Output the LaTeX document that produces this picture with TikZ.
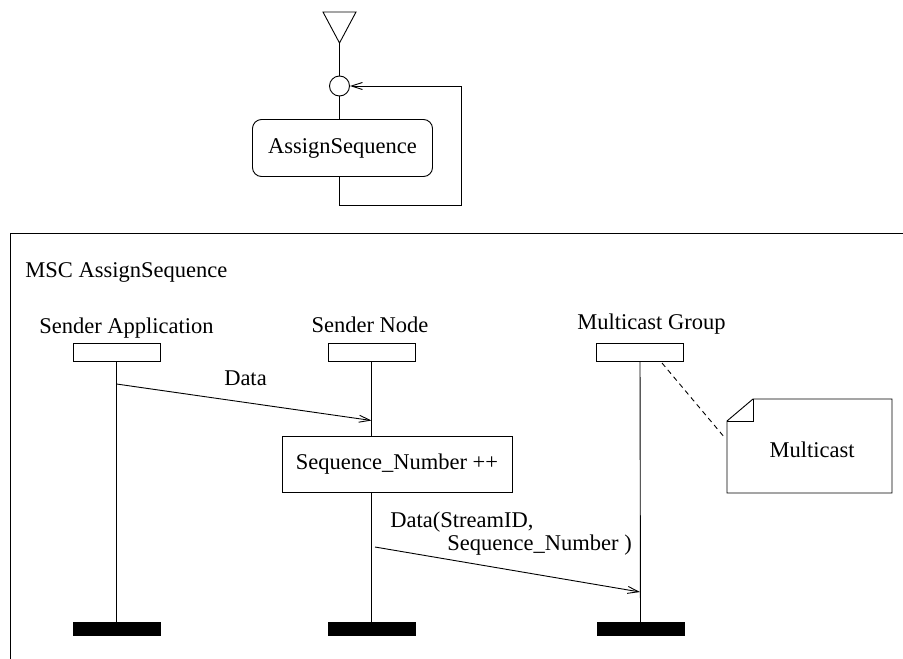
\documentclass[tikz,border=0pt]{standalone}
\usepackage{fontspec}
\setmainfont{Liberation Serif}
\usetikzlibrary{arrows.meta,calc}

\begin{document}
\begin{tikzpicture}[x=1pt,y=-1pt,line width=0.9pt,
  lbl/.style={inner sep=0pt,font=\fontsize{22.5}{26}\selectfont},
  msg/.style={-{Straight Barb[length=11pt,width=7pt]}},
  headbox/.style={draw,minimum width=87pt,minimum height=18pt,inner sep=0pt},
  stopbar/.style={fill=black,draw=black,minimum width=87pt,minimum height=13pt,inner sep=0pt},
  actbox/.style={draw,inner sep=0pt,font=\fontsize{22.5}{26}\selectfont},
]
\useasboundingbox (0,0) rectangle (903,659);

% ---- state diagram: start symbol, junction and the AssignSequence state
\coordinate (start) at (339.5,43);
\draw (323,12) -- (356,12) -- (start) -- cycle;
\node[circle,draw,minimum size=20pt,inner sep=0pt] (join) at (339.5,86) {};
\node[actbox,rounded corners=9pt,minimum width=180pt,minimum height=57pt]
  (assign) at (342.5,148) {AssignSequence};
\draw (start) -- (join);
\draw (join) -- (join |- assign.north);
\coordinate (loopc) at (461,205);
\draw[msg] (join |- assign.south) |- (loopc) |- (join.east);

% ---- MSC frame
\draw (903,233) -- (10,233) -- (10,659);
\node[lbl,anchor=base west] (title) at (25,277) {MSC AssignSequence};

% ---- instance heads and labels
\node[headbox] (sa) at (116.5,352.5) {};
\node[headbox] (sn) at (371.5,352.5) {};
\node[headbox] (mg) at (640,352.5) {};
\node[lbl,anchor=base] (saL) at (126.5,333) {Sender Application};
\node[lbl,anchor=base] (snL) at (370,332) {Sender Node};
\node[lbl,anchor=base] (mgL) at (651.5,329) {Multicast Group};

% ---- instance ends
\node[stopbar] (saE) at (116.5,629) {};
\node[stopbar] (snE) at (371.5,629) {};
\node[stopbar] (mgE) at (640.5,629) {};

% ---- action box on the sender node
\node[actbox,minimum width=230pt,minimum height=56pt] (seq) at (397,464) {Sequence\_Number ++};

% ---- lifelines
\draw (sa) -- (saE);
\draw (sn) -- (sn |- seq.north);
\draw (sn |- seq.south) -- (snE);
\draw (mg) -- (mgE);

% ---- messages
\coordinate (y1) at (0,384);
\coordinate (y2) at (0,420.5);
\draw[msg] (sa |- y1) -- (sn |- y2);
\node[lbl,anchor=base] (dataL) at (245.5,385) {Data};

\coordinate (m2s) at (375,547);
\coordinate (y3) at (0,592);
\draw[msg] (m2s) -- (mg |- y3);
\node[lbl,anchor=base west] (d2a) at (390,527) {Data(StreamID,};
\node[lbl,anchor=base west] (d2b) at (447,550) {Sequence\_Number )};

% ---- comment note attached to the multicast group
\coordinate (nfa) at (727,421);
\coordinate (nfb) at (753,399);
\draw (nfa) -- (nfb) -- (892,399) -- (892,493) -- (727,493) -- cycle;
\draw (nfb) -- (nfb |- nfa) -- (nfa);
\node[lbl] (note) at (812,450) {Multicast};
\coordinate (nl1) at (662,363);
\coordinate (nl2) at (725,438);
\draw[dash pattern=on 5pt off 4pt] (nl1) -- (nl2);
\end{tikzpicture}
\end{document}
